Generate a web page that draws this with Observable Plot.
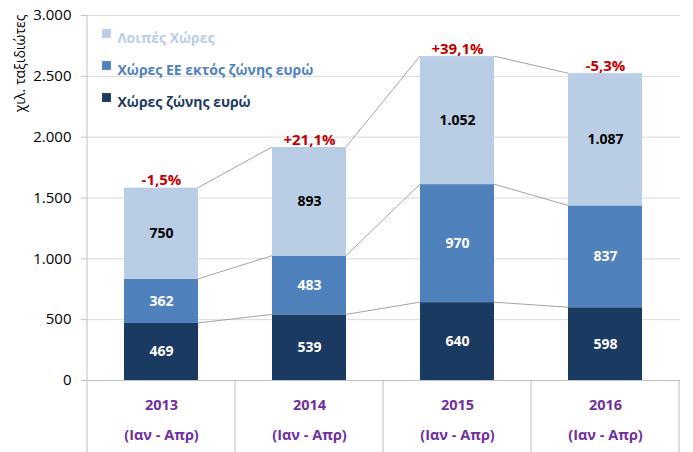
<!DOCTYPE html>
<html><head><meta charset="utf-8">
<script src="https://cdn.jsdelivr.net/npm/d3@7"></script>
<script src="https://cdn.jsdelivr.net/npm/@observablehq/plot@0.6"></script>
<style>
body{margin:0;background:#fff}
#chart{width:693px;height:452px}
#chart svg{font-family:"Open Sans","Noto Sans",sans-serif}
</style>
</head><body><div id="chart"></div>
<script>
const years = ["2013","2014","2015","2016"];
const periodLabel = "(Ιαν - Απρ)";
const seriesNames = ["Χώρες ζώνης ευρώ","Χώρες ΕΕ εκτός ζώνης ευρώ","Λοιπές Χώρες"];
const euroZone = [469,539,640,598];
const euNonEuro = [362,483,970,837];
const otherCountries = [750,893,1052,1087];
const changeLabels = ["-1,5%","+21,1%","+39,1%","-5,3%"];
const seriesColors = ["#1B3A62","#4F81BD","#B9CDE5"];
const labelColors = ["#ffffff","#ffffff","#000000"];
const yTicks = [0,500,1000,1500,2000,2500,3000];
const yLabel = "χιλ. ταξιδιώτες";

const gr = d3.formatLocale({decimal:",", thousands:".", grouping:[3], currency:["","€"]});
const fmt = gr.format(",d");

const seriesValues = [euroZone, euNonEuro, otherCountries];
const data = [];
seriesNames.forEach((s,si)=> years.forEach((y,i)=> data.push({year:y, series:s, value:seriesValues[si][i], si})));
const totals = years.map((y,i)=>({year:y, total: euroZone[i]+euNonEuro[i]+otherCountries[i], label: changeLabels[i]}));
const cum = (si,k) => seriesValues.slice(0,si+1).reduce((a,arr)=>a+arr[k],0);
const links = [];
for (let si=0; si<3; si++) for (let i=0;i<years.length-1;i++)
  links.push({x1:years[i], x2:years[i+1], y1:cum(si,i), y2:cum(si,i+1)});

function connectors(index, scales, values, dims) {
  const x = scales.x, y = scales.y, bw = x.bandwidth();
  const g = d3.create("svg:g");
  g.selectAll("line").data(links).join("line")
   .attr("x1", d=>x(d.x1)+bw).attr("x2", d=>x(d.x2))
   .attr("y1", d=>y(d.y1)).attr("y2", d=>y(d.y2))
   .attr("stroke","#8c8c8c").attr("stroke-width",0.8);
  return g.node();
}
function separators(index, scales, values, dims) {
  const x = scales.x, step = x.step(), bw = x.bandwidth();
  const pad = (step - bw)/2;
  const xs = years.map(v=>x(v)-pad);
  xs.push(x(years[years.length-1])+bw+pad);
  const g = d3.create("svg:g");
  const y0 = dims.height - dims.marginBottom;
  g.selectAll("line").data(xs).join("line")
   .attr("x1", d=>d).attr("x2", d=>d)
   .attr("y1", (d,i)=> i===0 ? dims.marginTop : y0).attr("y2", dims.height)
   .attr("stroke","#bfbfbf").attr("stroke-width",1);
  return g.node();
}

const legendOrder = [2,1,0];
const legendMarks = legendOrder.flatMap((si,k)=>[
  Plot.dot([null], {frameAnchor:"top-left", dx:20, dy:18+k*32, symbol:"square", r:5, fill:seriesColors[si]}),
  Plot.text([seriesNames[si]], {frameAnchor:"top-left", dx:31, dy:18+k*32, text:d=>d, textAnchor:"start", fill:seriesColors[si], fontWeight:"bold", fontSize:14})
]);

const plot = Plot.plot({
  width: 693, height: 452,
  marginLeft: 86, marginRight: 13, marginTop: 15, marginBottom: 72,
  x: {domain: years, paddingInner: 0.5, paddingOuter: 0.25, label: null},
  y: {domain: [0, 3000], label: null},
  color: {domain: seriesNames, range: seriesColors},
  marks: [
    Plot.gridY(yTicks, {stroke:"#d9d9d9", strokeOpacity:1}),
    Plot.ruleY([0], {stroke:"#bfbfbf"}),
    separators,
    Plot.axisY({ticks: yTicks, tickFormat: fmt, tickSize: 5, tickPadding: 10, fontSize: 15, color:"#000", stroke:"#bfbfbf", label:null}),
    Plot.axisX({tickSize: 0, tickPadding: 19, fontSize: 14.5, fontWeight:"bold", fill:"#7030A0", label:null}),
    Plot.axisX({tickSize: 0, tickPadding: 49, tickFormat: ()=>periodLabel, fontSize: 14.5, fontWeight:"bold", fill:"#7030A0", label:null}),
    Plot.text([yLabel], {frameAnchor:"top-left", text:d=>d, rotate:-90, textAnchor:"end", dx:-71, dy:-1, fontSize:14, fill:"#000"}),
    Plot.barY(data, Plot.stackY({x:"year", y:"value", fill:"series", order: seriesNames})),
    connectors,
    Plot.text(data, Plot.stackY({x:"year", y:"value", z:"series", order: seriesNames, text: d=>fmt(d.value), fill: d=>labelColors[d.si], fontWeight:"bold", fontSize:14})),
    Plot.text(totals, {x:"year", y:"total", text:"label", fill:"#C00000", fontWeight:"bold", fontSize:15, lineAnchor:"bottom", dy:-3}),
    ...legendMarks
  ]
});
document.getElementById("chart").appendChild(plot);
</script>
</body></html>
